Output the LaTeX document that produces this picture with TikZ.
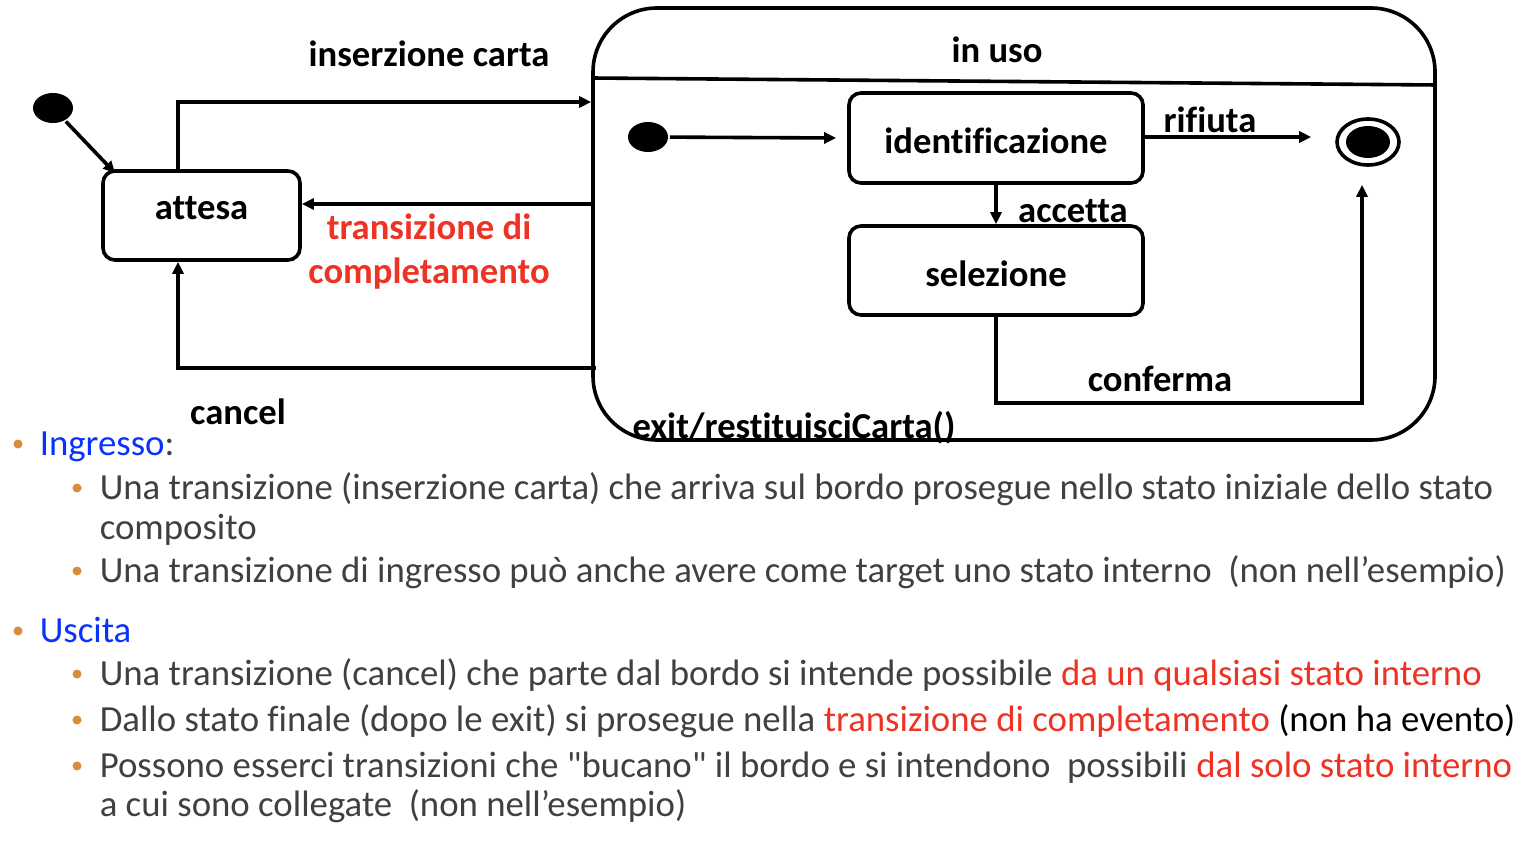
\documentclass[tikz,border=0pt]{standalone}
\usepackage{fontspec}
\setmainfont{Carlito}[Ligatures={TeXOff,NoCommon}]
\usepackage{xcolor}
\usepackage{tikz}
\usetikzlibrary{arrows.meta,positioning,calc,shapes.geometric}
\definecolor{grigio}{HTML}{404040}
\definecolor{blu}{HTML}{0A32FF}
\definecolor{rosso}{HTML}{EE3324}
\definecolor{arancio}{HTML}{DC8A3C}

\begin{document}
\begin{tikzpicture}[x=0.5pt,y=-0.5pt,line width=1.8pt,
  freccia/.style={-{Triangle[length=6pt,width=5.5pt]}},
  stato/.style={draw,rounded corners=6pt,minimum width=147pt,minimum height=45pt,text height=16pt,text depth=0pt,font=\bfseries\fontsize{18.3}{22}\selectfont},
  pallino/.style={ellipse,fill=black,minimum width=20pt,minimum height=15pt,inner sep=0pt},
  etichetta/.style={font=\bfseries\fontsize{18.3}{22}\selectfont,anchor=base},
  testo/.style={anchor=base west,inner sep=0pt,text=grigio,font=\fontsize{18.4}{22}\selectfont},
  punto/.style={circle,fill=arancio,minimum size=4.5pt,inner sep=0pt}]
\useasboundingbox (0,0) rectangle (1530,844);
% diagramma
\node[pallino] (ini) at (53,108) {};
\node[stato,minimum width=98.5pt,minimum height=44.5pt,text height=12pt,text depth=7.5pt] (attesa) at (201.5,215.5) {attesa};
\node[draw,rounded corners=32pt,minimum width=421pt,minimum height=216pt] (uso) at (1014,224) {};
\draw (uso.west |- 0,78) -- (uso.east |- 0,85);
\node[etichetta] (titolo) at (997,63) {in uso};
\node[pallino] (ini2) at (648,137) {};
\node[stato] (ident) at (996,138) {identificazione};
\node[stato,minimum height=44.5pt] (selez) at (996,270.5) {selezione};
\node[ellipse,draw,minimum width=31pt,minimum height=23pt,inner sep=0pt] (fin) at (1368,142) {};
\node[pallino,minimum width=22pt,minimum height=16pt] (fin2) at (fin) {};
% transizioni
\draw[freccia] (ini) -- ([xshift=7pt,yshift=-2pt]attesa.north west);
\draw[freccia] ([xshift=-11.75pt]attesa.north) |- (uso.west |- 0,102);
\draw[freccia] (uso.west |- 0,204) -- (attesa.east |- 0,204);
\draw[freccia] ([xshift=2.5pt]uso.west |- 0,368) -| ([xshift=-11.75pt]attesa.south);
\draw[freccia] (ini2) -- ([xshift=-5.5pt]ident.west);
\draw[freccia] (ident.east |- 0,137) -- ([xshift=-12pt]fin.west |- 0,137);
\draw[freccia] (ident.south) -- (selez.north);
\draw[freccia] (selez.south) |- ([xshift=-3pt]fin.south |- 0,403) -- ([xshift=-3pt,yshift=-9pt]fin.south);
% etichette
\node[etichetta] (l1) at (429,67) {inserzione carta};
\node[etichetta,text=rosso] (l2) at (429,240) {transizione di};
\node[etichetta,text=rosso] (l3) at (429,284) {completamento};
\node[etichetta] (l4) at (238,424) {cancel};
\node[etichetta] (l5) at (794,438) {exit/restituisciCarta()};
\node[etichetta] (l6) at (1210,133) {rifiuta};
\node[etichetta] (l7) at (1073,223) {accetta};
\node[etichetta] (l8) at (1160,392) {conferma};
% testo
\node[punto] (p1) at (18,444) {};
\node[testo] (t1) at (38,455) {\textcolor{blu}{Ingresso}:};
\node[punto] (p2) at (77,488) {};
\node[testo] (t2) at (98,499) {Una transizione (inserzione carta) che arriva sul bordo prosegue nello stato iniziale dello stato};
\node[testo] (t3) at (98,539) {composito};
\node[punto] (p3) at (77,571) {};
\node[testo] (t4) at (98,582) {Una transizione di ingresso può anche avere come target uno stato interno \ (non nell’esempio)};
\node[punto] (p4) at (18,631) {};
\node[testo] (t5) at (38,642) {\textcolor{blu}{Uscita}};
\node[punto] (p5) at (77,674) {};
\node[testo] (t6) at (98,685) {Una transizione (cancel) che parte dal bordo si intende possibile \textcolor{rosso}{da un qualsiasi stato interno}};
\node[punto] (p6) at (77,720) {};
\node[testo] (t7) at (98,731) {Dallo stato finale (dopo le exit) si prosegue nella \textcolor{rosso}{transizione di completamento} \textcolor{black}{(non ha evento)}};
\node[punto] (p7) at (77,766) {};
\node[testo] (t8) at (98,777) {Possono esserci transizioni che "bucano" il bordo e si intendono \ possibili \textcolor{rosso}{dal solo stato interno}};
\node[testo] (t9) at (98,816) {a cui sono collegate \ (non nell’esempio)};
\end{tikzpicture}
\end{document}
